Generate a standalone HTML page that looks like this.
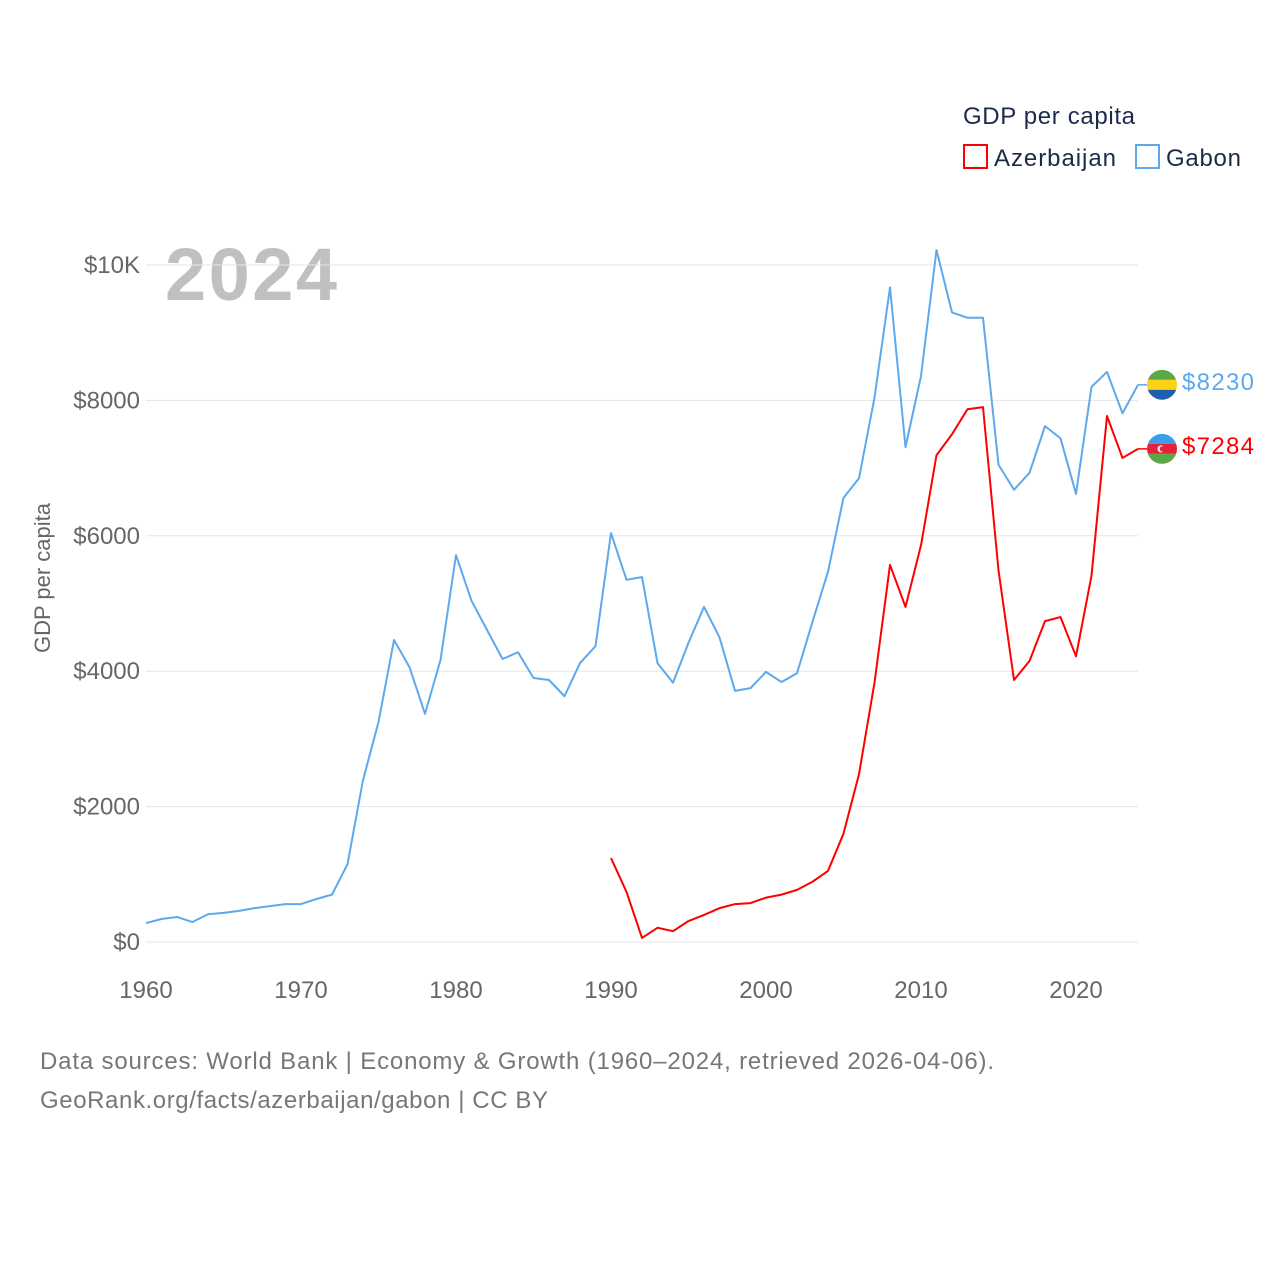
<!DOCTYPE html>
<html><head><meta charset="utf-8">
<style>
html,body{margin:0;padding:0;background:#fff;}
svg{display:block;font-family:"Liberation Sans",sans-serif;}
</style></head>
<body>
<svg id="chart" width="1280" height="1280" viewBox="0 0 1280 1280">
<text x="963" y="124" font-size="24" fill="#1c2a4a" textLength="172">GDP per capita</text>
<g>
<rect x="964" y="145" width="23" height="23" fill="none" stroke="#ff0000" stroke-width="2"/>
<text x="994" y="166" font-size="24" fill="#1c2a4a" textLength="122">Azerbaijan</text></g>
<g>
<rect x="1136" y="145" width="23" height="23" fill="none" stroke="#5ea8ee" stroke-width="2"/>
<text x="1166" y="166" font-size="24" fill="#1c2a4a" textLength="75">Gabon</text></g>
<text x="165" y="300" font-size="74" font-weight="bold" fill="#c0c0c0" textLength="172">2024</text>
<text transform="translate(50,578) rotate(-90)" text-anchor="middle" font-size="22" fill="#666">GDP per capita</text>
<g id="grid"></g><g id="lines"></g>
<text x="40" y="1069" font-size="24" fill="#777" textLength="954">Data sources: World Bank | Economy &amp; Growth (1960–2024, retrieved 2026-04-06).</text>
<text x="40" y="1108" font-size="24" fill="#777" textLength="508">GeoRank.org/facts/azerbaijan/gabon | CC BY</text>
</svg>
<script>
const gabonYears = [];
for (let y = 1960; y <= 2024; y++) gabonYears.push(y);
const gabonValues = [280,340,370,295,410,430,460,500,530,560,560,635,700,1150,2390,3250,4460,4060,3370,4165,5715,5040,4610,4180,4280,3900,3870,3630,4120,4370,6040,5350,5390,4120,3830,4420,4950,4500,3710,3750,3990,3840,3970,4730,5470,6560,6850,8040,9670,7310,8360,10220,9300,9220,9220,7050,6680,6930,7620,7440,6620,8200,8420,7810,8230];
const azYears = [];
for (let y = 1990; y <= 2024; y++) azYears.push(y);
const azValues = [1240,740,60,210,160,310,400,500,560,575,655,700,770,890,1050,1600,2480,3830,5570,4950,5860,7190,7500,7870,7900,5490,3870,4150,4740,4800,4220,5410,7770,7150,7284];
const yTicks = [0,2000,4000,6000,8000,10000];
const yTickLabels = ["$0","$2000","$4000","$6000","$8000","$10K"];
const xTicks = [1960,1970,1980,1990,2000,2010,2020];

const NS = "http://www.w3.org/2000/svg";
const xs = y => 146 + (y - 1960) * 15.5;
const ys = v => 942 - v * 0.0677;
function mk(tag, attrs, parent){const e=document.createElementNS(NS,tag);for(const k in attrs)e.setAttribute(k,attrs[k]);parent.appendChild(e);return e;}
const grid = document.getElementById('grid'), lines = document.getElementById('lines');
yTicks.forEach((t,i)=>{
  const l = mk('line',{x1:146,x2:1138,y1:ys(t),y2:ys(t),stroke:'#e6e6e6','stroke-width':1},grid);
  
  
  const tx = mk('text',{x:140,y:ys(t)+8,'text-anchor':'end','font-size':24,fill:'#666'},grid);
  tx.textContent = yTickLabels[i];
  
  
});
xTicks.forEach(t=>{
  const tx = mk('text',{x:xs(t),y:998,'text-anchor':'middle','font-size':24,fill:'#666'},grid);
  tx.textContent = t;
  
  
});
function series(years, vals, color, name){
  const p = mk('polyline',{points:years.map((y,i)=>xs(y)+','+ys(vals[i])).join(' '),fill:'none',stroke:color,'stroke-width':2,'stroke-linejoin':'round'},lines);
  
  
}
series(gabonYears, gabonValues, '#5ea8ee', 'gabon-line');
series(azYears, azValues, '#ff0000', 'azerbaijan-line');
const gLast = gabonValues[gabonValues.length-1], aLast = azValues[azValues.length-1];
const gy = ys(gLast), ay = ys(aLast);
const xe = xs(2024);
const gc = mk('line',{x1:xe,x2:1147,y1:gy,y2:gy,stroke:'#5ea8ee','stroke-width':1.5},lines);


const ac = mk('line',{x1:xe,x2:1147,y1:ay,y2:ay,stroke:'#ff0000','stroke-width':1.5},lines);


const gf = mk('g',{},lines);


const cg = mk('clipPath',{id:'cg'},gf); mk('circle',{cx:1162,cy:gy,r:15},cg);
mk('rect',{x:1147,y:gy-15,width:30,height:10,fill:'#5aa846','clip-path':'url(#cg)'},gf);
mk('rect',{x:1147,y:gy-5,width:30,height:10,fill:'#fcd116','clip-path':'url(#cg)'},gf);
mk('rect',{x:1147,y:gy+5,width:30,height:10,fill:'#1f5fb0','clip-path':'url(#cg)'},gf);
const af = mk('g',{},lines);


const ca = mk('clipPath',{id:'ca'},af); mk('circle',{cx:1162,cy:ay,r:15},ca);
mk('rect',{x:1147,y:ay-15,width:30,height:10,fill:'#3b9ee8','clip-path':'url(#ca)'},af);
mk('rect',{x:1147,y:ay-5,width:30,height:10,fill:'#e8203a','clip-path':'url(#ca)'},af);
mk('rect',{x:1147,y:ay+5,width:30,height:10,fill:'#5aa846','clip-path':'url(#ca)'},af);
mk('circle',{cx:1161,cy:ay,r:3.5,fill:'#fff'},af);
mk('circle',{cx:1162.5,cy:ay,r:2.8,fill:'#e8203a'},af);
const gt = mk('text',{x:1182,y:gy+5,'font-size':24,fill:'#5ea8ee',textLength:72},lines);
gt.textContent = '$' + gLast;


const at = mk('text',{x:1182,y:ay+5,'font-size':24,fill:'#ff0000',textLength:72},lines);
at.textContent = '$' + aLast;


</script>
</body></html>
